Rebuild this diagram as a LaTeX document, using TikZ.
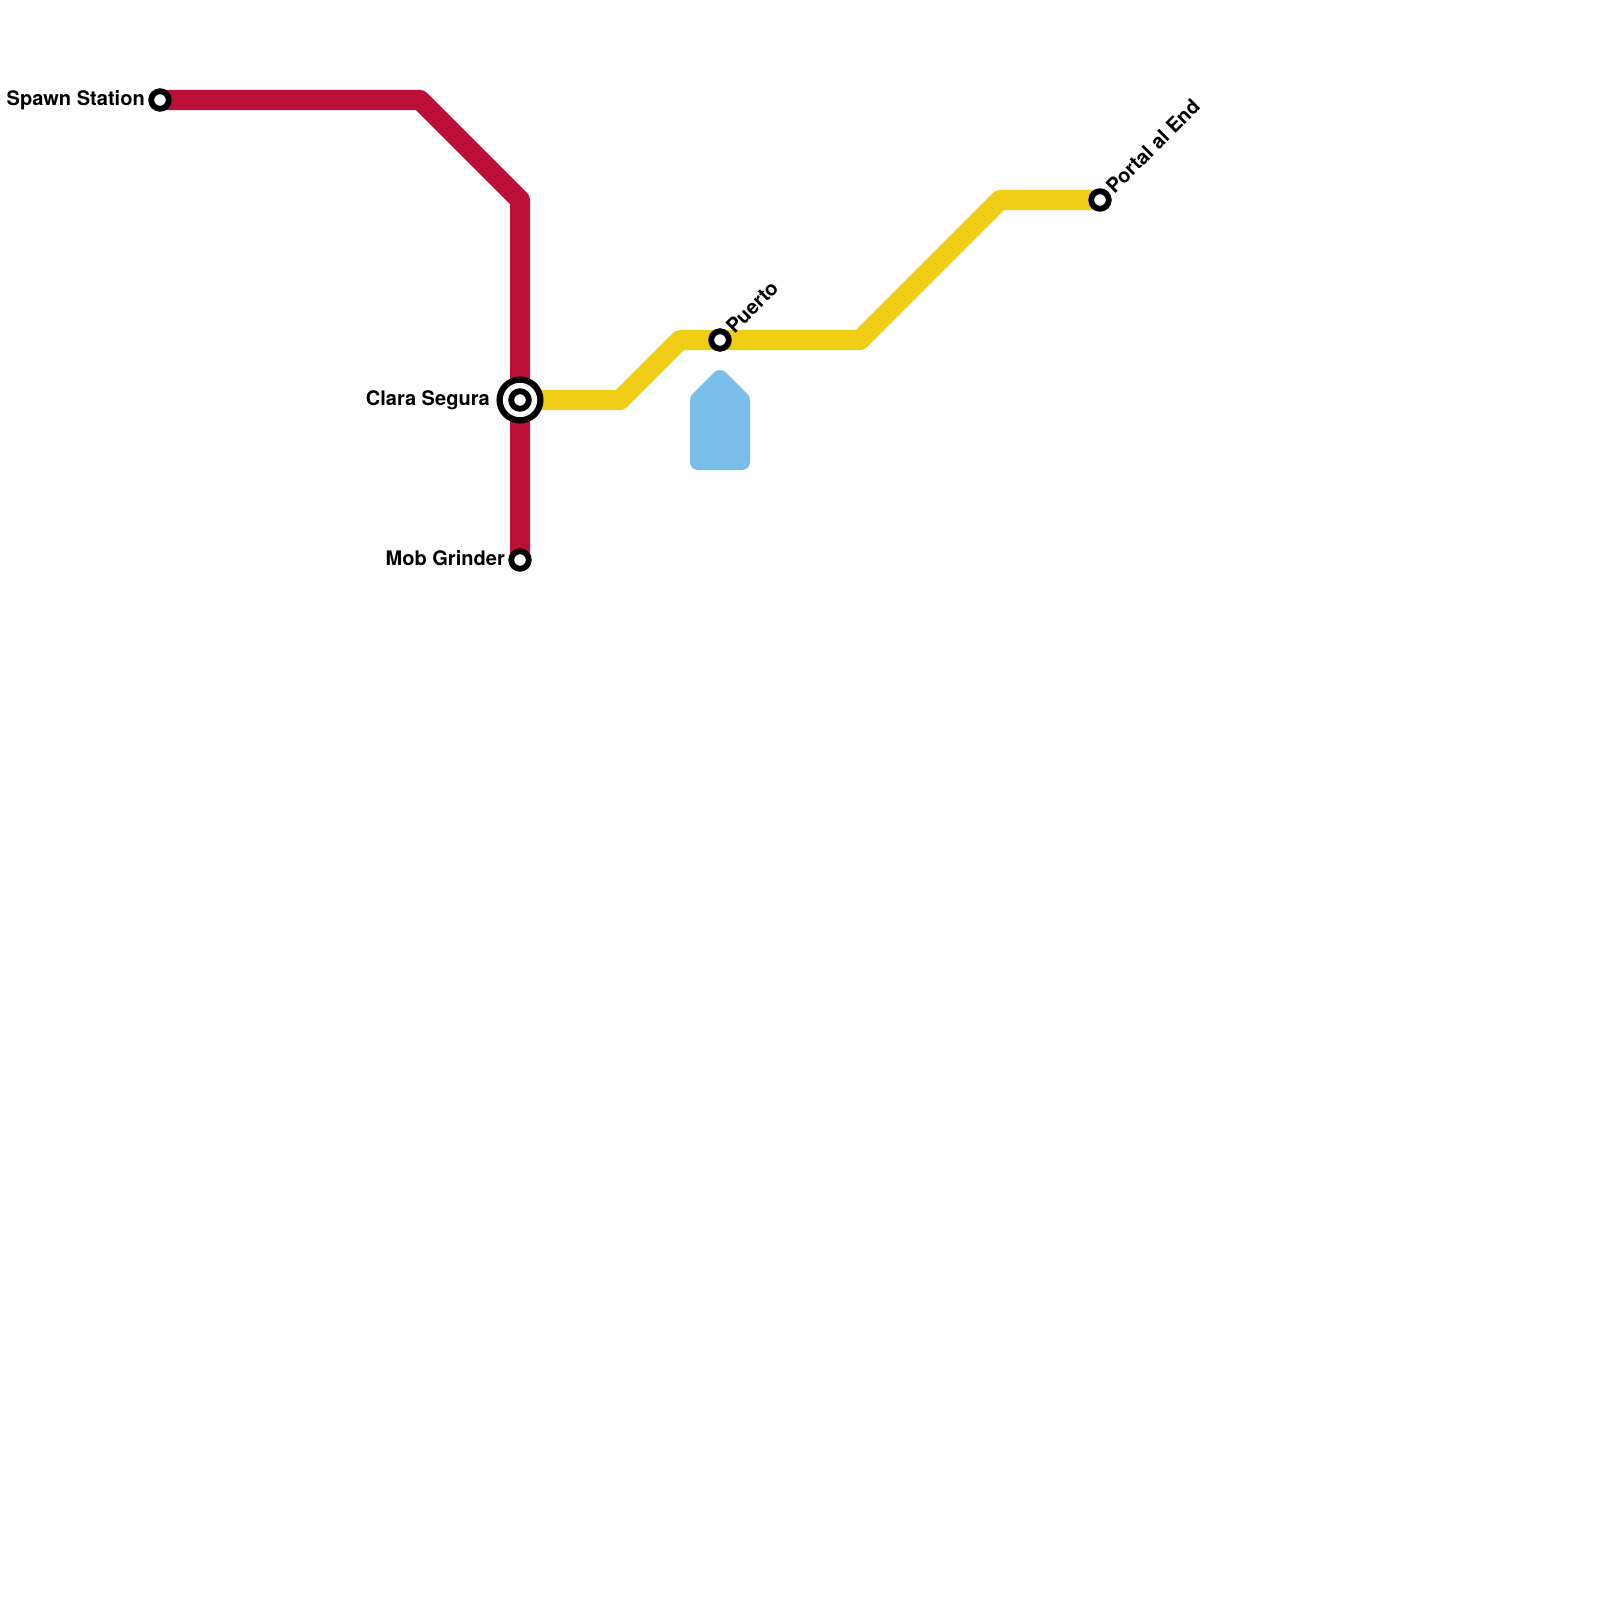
\documentclass[tikz,border=0pt]{standalone}
\usepackage{fontspec}
\setmainfont{TeX Gyre Heros}
\definecolor{redline}{HTML}{BD1038}
\definecolor{yellowline}{HTML}{F0CE15}
\definecolor{water}{HTML}{79BDE9}
\tikzset{
  x=0.01cm,y=-0.01cm,
  metro/.style={line width=0.2cm,line join=round,line cap=round},
  stn/.style={circle,draw=black,fill=white,line width=0.058cm,minimum size=0.176cm,inner sep=0pt},
  hub/.style={circle,draw=black,fill=white,line width=0.062cm,minimum size=0.408cm,inner sep=0pt},
  lbl/.style={font=\bfseries\fontsize{5.7}{6.5}\selectfont,text=black,inner sep=0pt}
}
\begin{document}
\begin{tikzpicture}
\useasboundingbox (0,0) rectangle (1600,1600);
\fill[white] (0,0) rectangle (1600,1600);
\coordinate (a1) at (420,100);
\coordinate (a2) at (520,200);
\coordinate (b1) at (620,400);
\coordinate (b2) at (680,340);
\coordinate (b3) at (860,340);
\coordinate (b4) at (1000,200);
\coordinate (spawn) at (160,100);
\coordinate (mob) at (520,560);
\coordinate (puerto) at (720,340);
\coordinate (portal) at (1100,200);
\coordinate (clara) at (520,400);
\draw[metro,redline] (spawn) -- (a1) -- (a2) -- (clara) -- (mob);
\draw[metro,yellowline] (clara) -- (b1) -- (b2) -- (puerto) -- (b3) -- (b4) -- (portal);
\node[stn] (spawnS) at (spawn) {};
\node[stn] (mobS) at (mob) {};
\node[stn] (puertoS) at (puerto) {};
\node[stn] (portalS) at (portal) {};
\node[hub] (claraO) at (clara) {};
\node[stn] (claraI) at (clara) {};
\filldraw[water,line width=0.16cm,line join=round] (720,378) -- (742,400) -- (742,462) -- (698,462) -- (698,400) -- cycle;
\node[lbl,anchor=base east] (l1) at (145.5,105.5) {Spawn Station};
\node[lbl,anchor=base east] (l2) at (490.5,405) {Clara Segura};
\node[lbl,anchor=base east] (l3) at (505.5,565) {Mob Grinder};
\node[lbl,anchor=base west,rotate=45] (l4) at (734,335) {Puerto};
\node[lbl,anchor=base west,rotate=45] (l5) at (1114,195) {Portal al End};
\end{tikzpicture}
\end{document}
